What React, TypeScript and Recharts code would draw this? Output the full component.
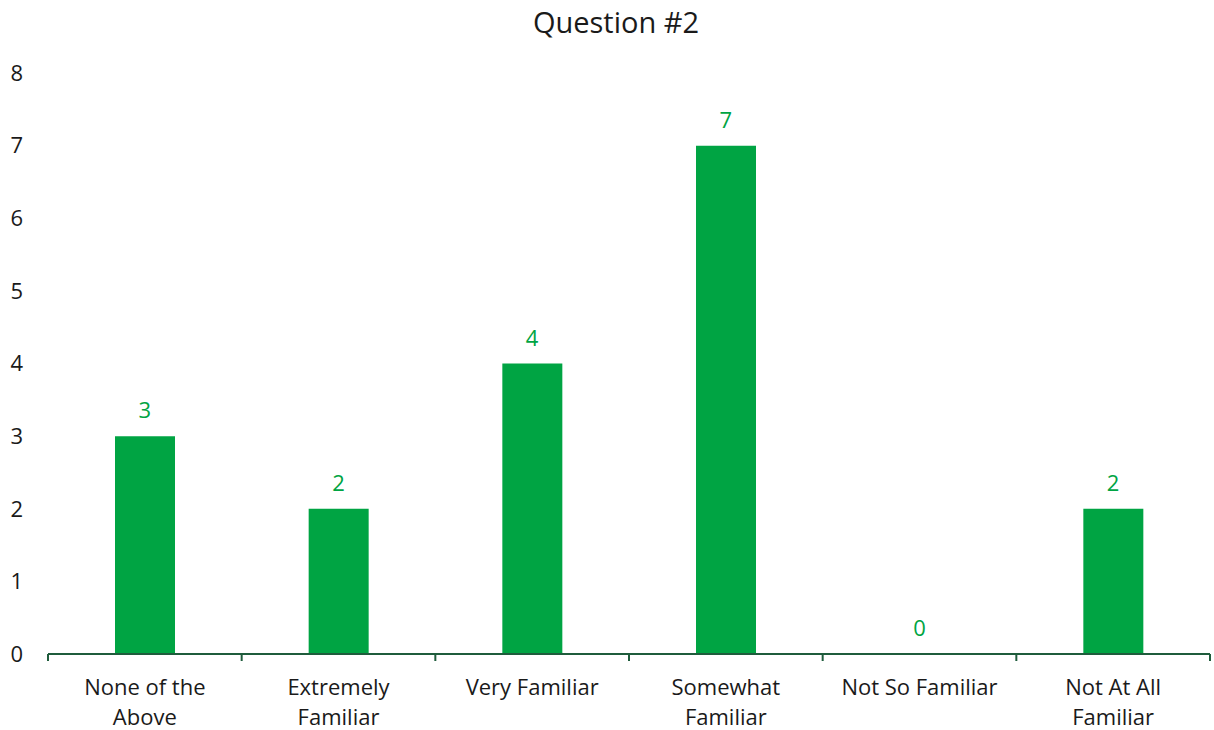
import React from 'react';
import { ComposedChart, Bar, Line, XAxis, YAxis, LabelList } from 'recharts';

const categories = ['None of the Above', 'Extremely Familiar', 'Very Familiar', 'Somewhat Familiar', 'Not So Familiar', 'Not At All Familiar'];
const categoryLines = [['None of the', 'Above'], ['Extremely', 'Familiar'], ['Very Familiar'], ['Somewhat', 'Familiar'], ['Not So Familiar'], ['Not At All', 'Familiar']];
const counts = [3, 2, 4, 7, 0, 2];
const yTicks = [0, 1, 2, 3, 4, 5, 6, 7, 8];

const data = categories.map((c, i) => ({ name: c, value: counts[i] }));

const FONT = "'Open Sans', sans-serif";
const GREEN = '#00A443';
const AXIS = '#1f5c3c';

const XTick = (props: any) => {
  const { x, y, payload, index } = props;
  const half = payload && payload.offset ? payload.offset : 1162 / 12;
  const lines = categoryLines[index] || [String(payload.value)];
  const isLast = index === categories.length - 1;
  return (
    <g>
      <line x1={x - half} x2={x - half} y1={y} y2={y + 7} stroke={AXIS} strokeWidth={2} />
      {isLast && <line x1={x + half} x2={x + half} y1={y} y2={y + 7} stroke={AXIS} strokeWidth={2} />}
      {lines.map((l: string, i: number) => (
        <text key={i} x={x} y={y + 41 + i * 30} textAnchor="middle" fontSize={22} fill="#1a1a1a" fontFamily={FONT}>
          {l}
        </text>
      ))}
    </g>
  );
};

export default function App() {
  return (
    <div style={{ position: 'absolute', left: 0, top: 0, width: 1214, height: 730, background: '#fff' }}>
      <svg width={1214} height={45} style={{ position: 'absolute', left: 0, top: 0 }}>
        <text x={616} y={33} textAnchor="middle" fontSize={29} fill="#1a1a1a" fontFamily={FONT}>Question #2</text>
      </svg>
      <ComposedChart width={1214} height={730} data={data} margin={{ top: 73, right: 4, bottom: 0, left: 0 }}>
        <YAxis
          width={48}
          domain={[0, 8]}
          ticks={yTicks}
          interval={0}
          axisLine={false}
          tickLine={false}
          tickSize={0}
          tickMargin={25}
          tick={{ fontSize: 22, fill: '#1a1a1a', fontFamily: FONT }}
        />
        <XAxis
          dataKey="name"
          interval={0}
          height={76}
          tickSize={0}
          tickMargin={0}
          tickLine={false}
          axisLine={{ stroke: AXIS, strokeWidth: 2 }}
          tick={<XTick />}
        />
        <Bar dataKey="value" fill={GREEN} barSize={60} isAnimationActive={false} />
        <Line dataKey="value" stroke="none" dot={false} activeDot={false} isAnimationActive={false}>
          <LabelList dataKey="value" position="top" offset={18} fill={GREEN} fontSize={22} fontFamily={FONT} />
        </Line>
      </ComposedChart>
    </div>
  );
}
